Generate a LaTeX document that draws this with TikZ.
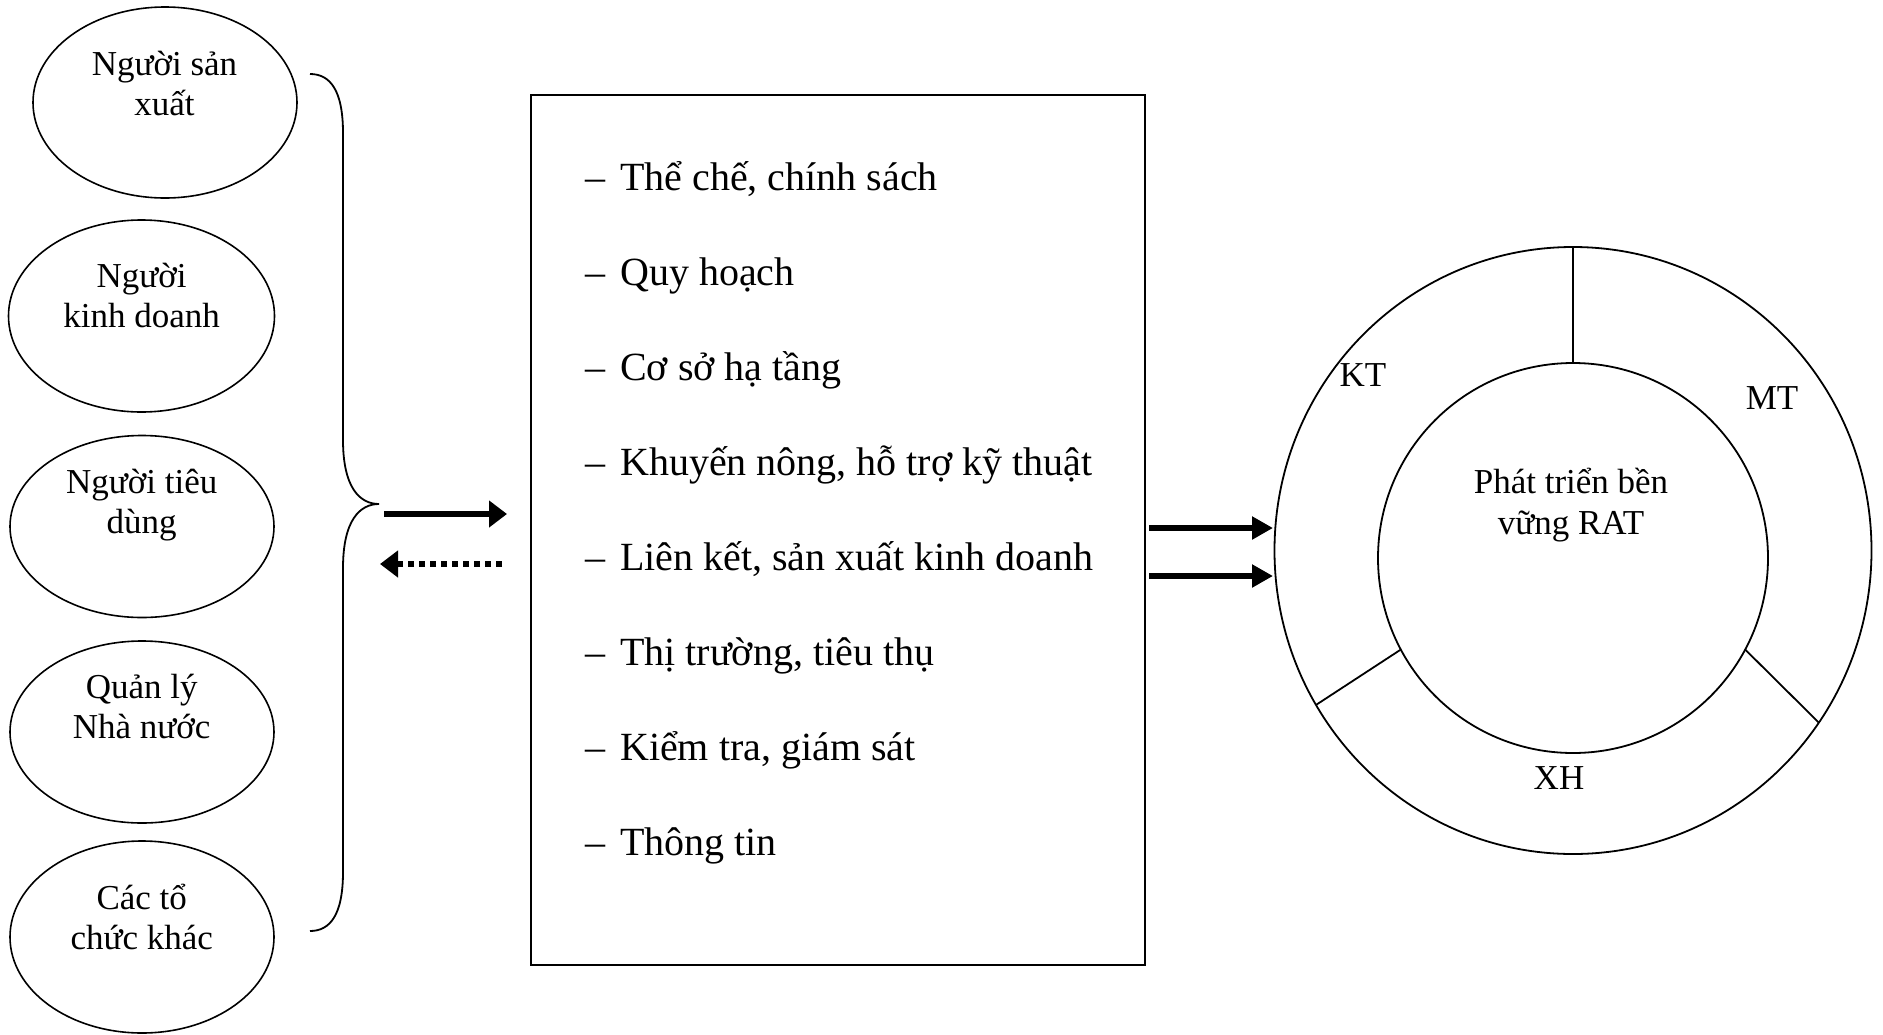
\documentclass[tikz,border=0pt]{standalone}
\usepackage{fontspec}
\setmainfont{Liberation Serif}
\usetikzlibrary{arrows.meta,shapes.geometric}
\begin{document}
\begin{tikzpicture}[x=1pt,y=-1pt,
  actor/.style={ellipse, draw, line width=1.6pt, inner sep=0pt, outer sep=0pt},
  % multi-line labels sit on the baseline of their last line
  actorlabel/.style={anchor=base, align=center, inner sep=0pt,
    font=\fontsize{35}{40.5}\selectfont},
  itemlabel/.style={anchor=base west, inner sep=0pt,
    font=\fontsize{40}{46}\selectfont},
  ringlabel/.style={anchor=base, align=center, inner sep=0pt,
    font=\fontsize{35}{40.5}\selectfont},
  ringline/.style={line width=1.8pt},
  fatarrow/.style={line width=5.5pt, -{Triangle[length=18pt,width=26pt]}},
  dotarrow/.style={line width=5.5pt, dash pattern=on 6pt off 5pt,
    -{Triangle[length=18pt,width=26pt]}},
  longarrow/.style={line width=5.5pt, -{Triangle[length=21pt,width=22pt]}}
]
\useasboundingbox (0,0) rectangle (1883,1034);
\newcommand{\itemdash}{–\ \kern5pt}

% stakeholders
\node[actor, minimum width=264pt, minimum height=191pt] (prod) at (165,102.5) {};
\node[actor, minimum width=266pt, minimum height=192pt] (trade) at (141.5,316) {};
\node[actor, minimum width=264pt, minimum height=182pt] (cons) at (142,526.5) {};
\node[actor, minimum width=264pt, minimum height=182pt] (state) at (142,732) {};
\node[actor, minimum width=264pt, minimum height=192pt] (other) at (142,937) {};

\node[actorlabel] (prodt)  at (164.5,115.5) {Người sản\\xuất};
\node[actorlabel] (tradet) at (141.7,327.5) {Người\\kinh doanh};
\node[actorlabel] (const)  at (141.7,533.5) {Người tiêu\\dùng};
\node[actorlabel] (statet) at (141.7,738.5) {Quản lý\\Nhà nước};
\node[actorlabel] (othert) at (141.7,949.5) {Các tổ\\chức khác};

% brace grouping the stakeholders
\coordinate (tip) at (379,504);
\draw[line width=1.8pt]
  (310,74) .. controls (330,74) and (343,90) .. (343,133)
  -- (343,440) .. controls (343,488) and (360,504) .. (tip)
  .. controls (360,504) and (343,520) .. (343,568)
  -- (343,872) .. controls (343,915) and (330,931) .. (310,931);

% factor box
\node[draw, line width=2pt, anchor=north west, minimum width=614pt,
      minimum height=870pt, inner sep=0pt] (factors) at (530,94) {};
\node[itemlabel] (f1) at (585,190) {\itemdash Thể chế, chính sách};
\node[itemlabel] (f2) at (585,285) {\itemdash Quy hoạch};
\node[itemlabel] (f3) at (585,380) {\itemdash Cơ sở hạ tầng};
\node[itemlabel] (f4) at (585,475) {\itemdash Khuyến nông, hỗ trợ kỹ thuật};
\node[itemlabel] (f5) at (585,570) {\itemdash Liên kết, sản xuất kinh doanh};
\node[itemlabel] (f6) at (585,665) {\itemdash Thị trường, tiêu thụ};
\node[itemlabel] (f7) at (585,760) {\itemdash Kiểm tra, giám sát};
\node[itemlabel] (f8) at (585,855) {\itemdash Thông tin};

% sustainability ring
\node[ellipse, draw, line width=1.8pt, minimum width=597pt, minimum height=607pt,
      inner sep=0pt, outer sep=0pt] (outer) at (1573,550.5) {};
\node[circle, draw, line width=1.8pt, minimum size=390pt,
      inner sep=0pt, outer sep=0pt] (inner) at (1573,558) {};
\draw[ringline] (inner.90) -- (outer.90);
\draw[ringline] (inner.208.5) -- (outer.211.4);
\draw[ringline] (inner.332) -- (outer.325.7);

\node[ringlabel] (kt) at (1363,386.5) {KT};
\node[ringlabel] (mt) at (1772,409) {MT};
\node[ringlabel] (xh) at (1559,789.5) {XH};
\node[ringlabel] (core) at (1571,534) {Phát triển bền\\vững RAT};

% flows
\coordinate (a1s) at (384,514);
\coordinate (a1e) at (507,514);
\coordinate (a2s) at (502,564);
\coordinate (a2e) at (380,564);
\coordinate (b1s) at (1149,528);
\coordinate (b1e) at (1273,528);
\coordinate (b2s) at (1149,576);
\coordinate (b2e) at (1273,576);
\draw[fatarrow] (a1s) -- (a1e);
\draw[dotarrow] (a2s) -- (a2e);
\draw[longarrow] (b1s) -- (b1e);
\draw[longarrow] (b2s) -- (b2e);
\end{tikzpicture}
\end{document}
